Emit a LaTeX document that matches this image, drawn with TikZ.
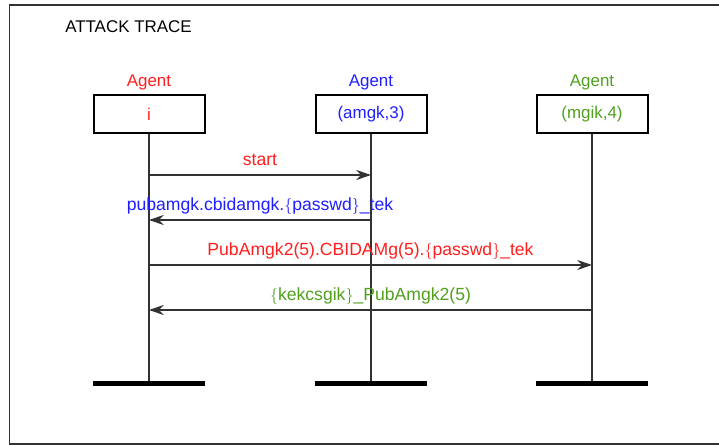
\documentclass[tikz,border=0pt]{standalone}
\usepackage{fontspec}
\setmainfont{Liberation Sans}
\usetikzlibrary{arrows.meta}
\definecolor{agred}{RGB}{255,30,30}
\definecolor{agblue}{RGB}{30,30,255}
\definecolor{aggreen}{RGB}{80,160,30}
\definecolor{frame}{RGB}{50,50,50}
\begin{document}
\begin{tikzpicture}[x=0.75pt,y=-0.75pt,
  txt/.style={font=\fontsize{12.7}{14}\selectfont, inner sep=0pt},
  agentbox/.style={draw=black, line width=1.5pt, minimum width=83.25pt, minimum height=28.5pt, inner sep=0pt, font=\fontsize{12.7}{14}\selectfont},
  lifeline/.style={draw=frame, line width=1.3pt},
  endbar/.style={draw=black, line width=3.75pt},
  msg/.style={draw=frame, line width=1.4pt, -{Stealth[length=11pt,width=7.5pt,inset=3.5pt]}},
  msglabel/.style={inner sep=0pt, font=\fontsize{13.2}{15}\selectfont, anchor=base, yshift=6.75pt}]
\useasboundingbox (0,0) rectangle (719,445);
\draw[frame, line width=1.4pt] (730,5) -- (9.5,5) -- (9.5,444) -- (730,444);
\node[txt, anchor=base west] (title) at (65,32.5) {ATTACK TRACE};
% agents
\node[txt, anchor=base, text=agred] (li) at (149,87) {Agent};
\node[txt, anchor=base, text=agblue] (la) at (371,87) {Agent};
\node[txt, anchor=base, text=aggreen] (lm) at (592,87) {Agent};
\node[agentbox, text=agred] (i) at (149,114) {i};
\node[agentbox, text=agblue] (a) at (371,114) {(amgk,3)};
\node[agentbox, text=aggreen] (m) at (592,114) {(mgik,4)};
\coordinate (ei) at (149,383.5);
\coordinate (ea) at (371,383.5);
\coordinate (em) at (592,383.5);
\draw[lifeline] (i.south) -- (ei);
\draw[lifeline] (a.south) -- (ea);
\draw[lifeline] (m.south) -- (em);
\draw[endbar] ([xshift=-42pt]ei) -- ([xshift=42pt]ei);
\draw[endbar] ([xshift=-42pt]ea) -- ([xshift=42pt]ea);
\draw[endbar] ([xshift=-42pt]em) -- ([xshift=42pt]em);
% message points
\coordinate (i1) at (149,175); \coordinate (a1) at (371,175);
\coordinate (i2) at (149,220); \coordinate (a2) at (371,220);
\coordinate (i3) at (149,265); \coordinate (m3) at (592,265);
\coordinate (i4) at (149,310); \coordinate (m4) at (592,310);
\draw[msg] (i1) -- node[msglabel, text=agred] {start} (a1);
\draw[msg] (a2) -- node[msglabel, text=agblue] {pubamgk.cbidamgk.$\{$passwd$\}$\_tek} (i2);
\draw[msg] (i3) -- node[msglabel, text=agred] {PubAmgk2(5).CBIDAMg(5).$\{$passwd$\}$\_tek} (m3);
\draw[msg] (m4) -- node[msglabel, text=aggreen] {$\{$kekcsgik$\}$\_PubAmgk2(5)} (i4);
\end{tikzpicture}
\end{document}
